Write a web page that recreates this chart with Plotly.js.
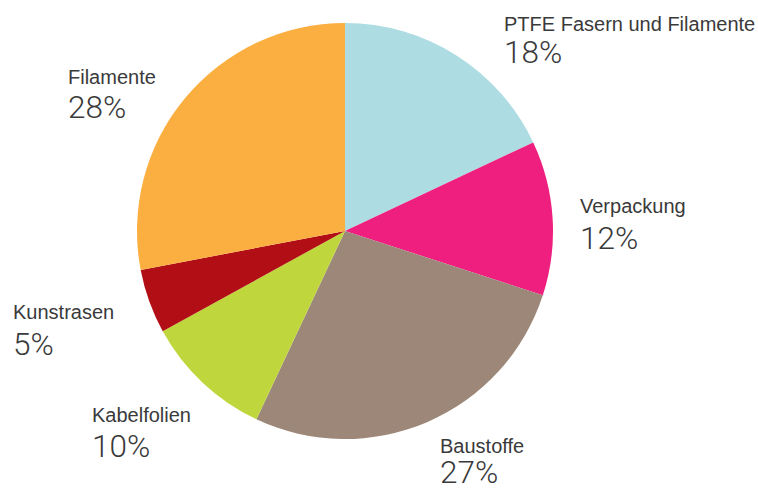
<!DOCTYPE html>
<html>
<head>
<meta charset="utf-8">
<script src="https://cdn.plot.ly/plotly-3.0.1.min.js"></script>
<style>html,body{margin:0;padding:0;background:#fff;}#chart{width:758px;height:492px;}</style>
</head>
<body>
<div id="chart"></div>
<script>
const categories = ["PTFE Fasern und Filamente", "Verpackung", "Baustoffe", "Kabelfolien", "Kunstrasen", "Filamente"];
const shares = [18, 12, 27, 10, 5, 28];
const sliceColors = ["#ADDCE2", "#EE1F7E", "#9C8778", "#BFD73C", "#B10F15", "#FBAF40"];
const percentLabels = ["18%", "12%", "27%", "10%", "5%", "28%"];

// label anchor positions in pixels (left x, name middle y, percent middle y)
const labelPos = [
  [503, 24, 53],
  [579, 206, 238],
  [439, 446, 472],
  [91, 415, 446],
  [12, 312, 344],
  [67, 77, 108]
];

const W = 758, H = 492;
const cx = 345, cy = 231, r = 208;

const annotations = [];
categories.forEach((c, i) => {
  const p = labelPos[i];
  annotations.push({
    xref: "paper", yref: "paper", x: p[0] / W, y: 1 - p[1] / H,
    xanchor: "left", yanchor: "middle", showarrow: false, text: c, borderpad: 0,
    font: {family: "Liberation Sans, Arial, sans-serif", size: 20, color: "#3a3a3a"}
  });
  annotations.push({
    xref: "paper", yref: "paper", x: p[0] / W, y: 1 - p[2] / H,
    xanchor: "left", yanchor: "middle", showarrow: false, text: percentLabels[i], borderpad: 0,
    font: {family: "Roboto, Liberation Sans, sans-serif", size: 31.5, weight: 300, color: "#3a3a3a"}
  });
});

const data = [{
  type: "pie",
  labels: categories,
  values: shares,
  sort: false,
  direction: "clockwise",
  rotation: 0,
  textinfo: "none",
  hoverinfo: "label+percent",
  marker: {colors: sliceColors, line: {width: 0}},
  domain: {x: [(cx - r) / W, (cx + r) / W], y: [(H - cy - r) / H, (H - cy + r) / H]},
  showlegend: false
}];

const layout = {
  width: W, height: H,
  margin: {l: 0, r: 0, t: 0, b: 0},
  paper_bgcolor: "#ffffff",
  showlegend: false,
  annotations: annotations
};

Plotly.newPlot("chart", data, layout, {displayModeBar: false, staticPlot: true});
</script>
</body>
</html>
